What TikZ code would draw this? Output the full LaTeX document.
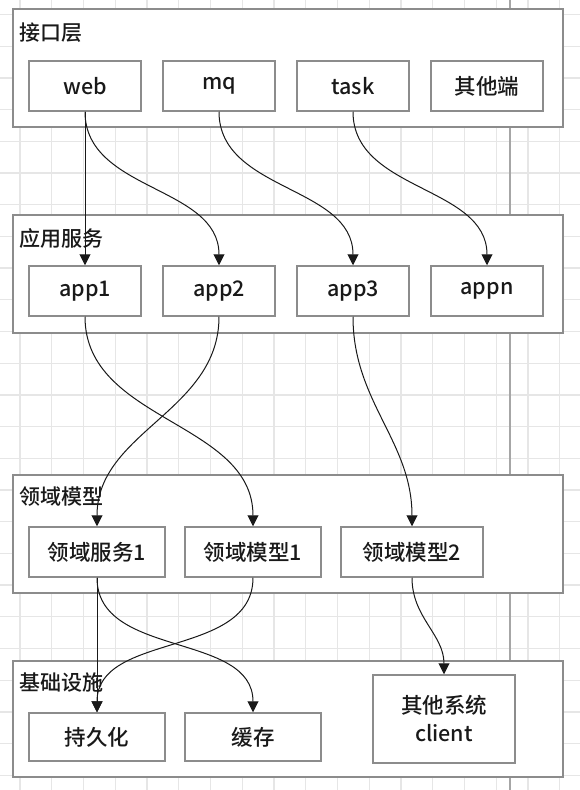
\documentclass[tikz,border=0pt]{standalone}
\usepackage{fontspec}
\setmainfont{Noto Sans CJK SC}
\IfFontExistsTF{Noto Sans CJK SC Medium}
  {\newfontfamily\boxfont{Noto Sans CJK SC Medium}}
  {\newfontfamily\boxfont{Noto Sans CJK SC}}
\usepackage{xcolor}
\usepackage{tikz}
\usetikzlibrary{arrows.meta,positioning,calc}

\definecolor{boxgray}{HTML}{8C8C8C}
\definecolor{gridgray}{HTML}{E6E6E6}
\definecolor{pagegray}{HTML}{A6A6A6}

\begin{document}
\begin{tikzpicture}[x=1pt, y=-1pt,
        layer/.style={draw=boxgray, line width=1.5pt, fill=white, minimum width=550pt,
                      minimum height=118pt, inner sep=0pt},
        title/.style={anchor=west, inner sep=0pt, font=\boxfont\fontsize{21}{24}\selectfont, text=black!90},
        part/.style={draw=boxgray, line width=1.5pt, fill=white, minimum width=112pt,
                     minimum height=50pt, inner sep=0pt, align=center,
                     font=\boxfont\fontsize{21.5}{28}\selectfont, text=black!90},
        wide/.style={part, minimum width=136pt},
        arrow/.style={-{Triangle[length=11pt, width=11pt]}, line width=1pt, black!90}
    ]
        \useasboundingbox (0,0) rectangle (580,790);
        \fill[white] (0,0) rectangle (580,790);
        % grid
        \foreach \i in {0,...,17} \draw[gridgray, line width=1.3pt] (20+31.75*\i,0) -- (20+31.75*\i,790);
        \foreach \j in {0,...,24} \draw[gridgray, line width=1.3pt] (0,14.5+31.7*\j) -- (580,14.5+31.7*\j);
        \draw[pagegray, line width=1.5pt] (510,0) -- (510,790);

        % layers
        \node[layer] (api) at (288,68) {};
        \node[layer] (svc) at (288,274) {};
        \node[layer] (dom) at (288,534) {};
        \node[layer, minimum height=116pt] (infra) at (288,719) {};
        \node[title] (apiT) at (19,33) {接口层};
        \node[title] (svcT) at (19,238) {应用服务};
        \node[title] (domT) at (19,497) {领域模型};
        \node[title] (infraT) at (19,683) {基础设施};

        \node[part] (web) at (85,86) {web};
        \node[part] (mq) at (219,86) {mq};
        \node[part] (task) at (353,86) {task};
        \node[part] (other) at (487,86) {其他端};

        \node[part] (app1) at (85,291) {app1};
        \node[part] (app2) at (219,291) {app2};
        \node[part] (app3) at (353,291) {app3};
        \node[part] (appn) at (487,291) {appn};

        \node[wide] (dsvc) at (97,552) {领域服务1};
        \node[wide] (dm1) at (253,552) {领域模型1};
        \node[wide, minimum width=142pt] (dm2) at (412,552) {领域模型2};

        \node[wide, minimum height=48pt] (store) at (97,737) {持久化};
        \node[wide, minimum height=48pt] (cache) at (253,737) {缓存};
        \node[part, minimum width=142pt, minimum height=88pt] (client) at (444,719) {其他系统\\client};

        \draw[arrow] (web.south) -- (app1.north);
        \draw[arrow] (web.south) to[out=-90, in=90] (app2.north);
        \draw[arrow] (mq.south) to[out=-90, in=90] (app3.north);
        \draw[arrow] (task.south) to[out=-90, in=90] (appn.north);

        \draw[arrow] (app1.south) to[out=-90, in=90] (dm1.north);
        \draw[arrow] (app2.south) to[out=-90, in=90] (dsvc.north);
        \draw[arrow] (app3.south) to[out=-90, in=90] (dm2.north);

        \draw[arrow] (dsvc.south) -- (store.north);
        \draw[arrow] (dsvc.south) to[out=-90, in=90] (cache.north);
        \draw[arrow] (dm1.south) to[out=-90, in=90] (store.north);
        \draw[arrow] (dm2.south) to[out=-90, in=90] (client.north);
    \end{tikzpicture}
\end{document}
